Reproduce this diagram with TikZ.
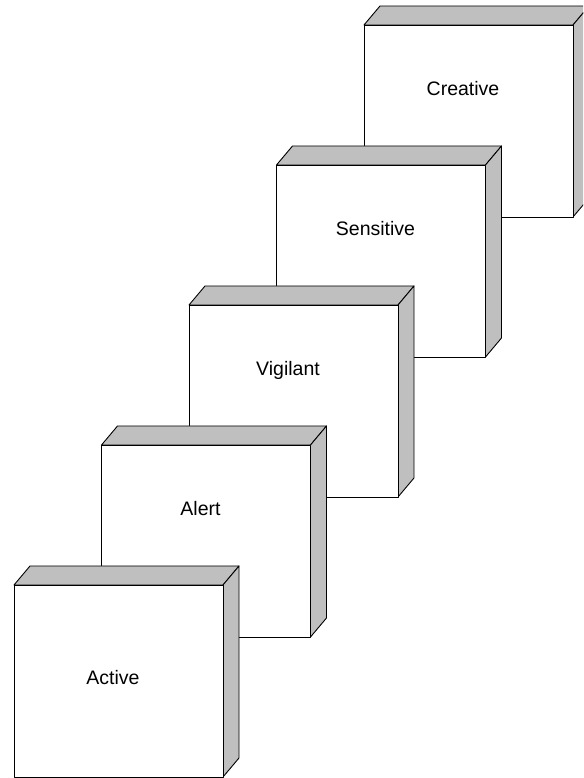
\documentclass[tikz,border=0pt]{standalone}
\usepackage{fontspec}
\setmainfont{Liberation Sans}
\usepackage{tikz}
\tikzset{
    every node/.append style={font=\fontsize{19.5}{23}\selectfont},
    side face/.style={draw=black, fill=gray!50, line width=0.9pt, line join=round},
    front face/.style={draw=black, fill=white, line width=0.9pt, line join=round},
}

\begin{document}
\begin{tikzpicture}[x=1pt, y=1pt]
    \useasboundingbox (0,0) rectangle (583,778);
    \clip (0,0) rectangle (583,778);
    % boxes from back (top right) to front (bottom left)
    \foreach \k/\name/\lift in {4/Creative/121, 3/Sensitive/121, 2/Vigilant/121, 1/Alert/121, 0/Active/92} {
        \begin{scope}[shift={(14+87.5*\k, 1+140*\k)}]
            \filldraw[side face] (0,192) -- (16,211) -- (225,211) -- (209,192) -- cycle;
            \filldraw[side face] (209,0) -- (225,19) -- (225,211) -- (209,192) -- cycle;
            \filldraw[front face] (0,0) rectangle (209,192);
            \node[anchor=base] (box\k) at (99,\lift) {\name};
        \end{scope}
    }
\end{tikzpicture}
\end{document}
